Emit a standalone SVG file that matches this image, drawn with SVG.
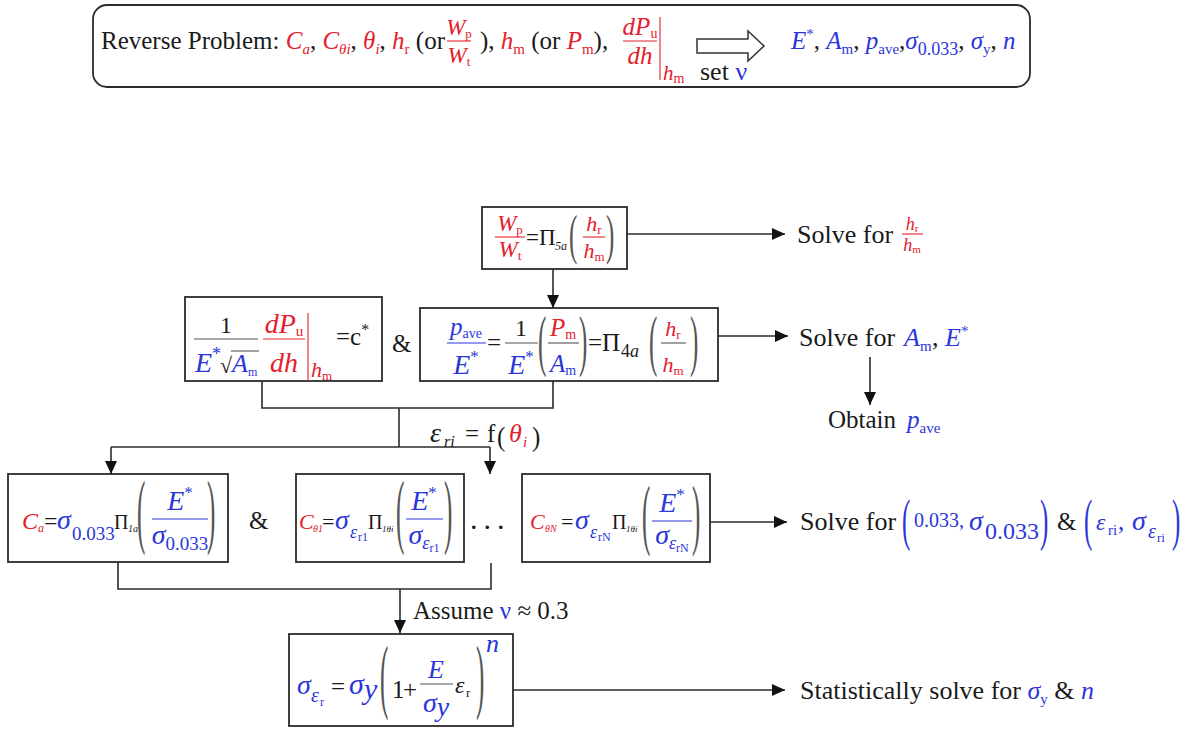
<svg xmlns="http://www.w3.org/2000/svg" width="1190" height="729" viewBox="0 0 1190 729" font-family="'Liberation Serif', 'DejaVu Serif', serif" font-size="25">
<defs>
<style>
text{fill:#1a1a1a;font-family:'Liberation Serif','DejaVu Serif',serif}
.r{fill:#e3202c}
.b{fill:#2b36d9}
.i{font-style:italic}
.n{font-style:normal}
.box{fill:#fff;stroke:#2b2b2b;stroke-width:1.8}
.ln{fill:none;stroke:#2b2b2b;stroke-width:1.6}
.bar{stroke:#555;stroke-width:1.1}
.rbar{stroke:#e3202c;stroke-width:1.1}
.bbar{stroke:#2b36d9;stroke-width:1.1}
.p{fill:#555}
.m{text-anchor:middle}
</style>
<marker id="ah" markerUnits="userSpaceOnUse" markerWidth="14" markerHeight="12" refX="13" refY="6" orient="auto"><path d="M0,0 L13,6 L0,12 z" fill="#111"/></marker>
</defs>
<rect width="1190" height="729" fill="#fff"/>

<g id="n-reverse">
<rect class="box" x="93" y="5" width="937" height="82" rx="14"/>
<text x="101" y="49">Reverse Problem: <tspan class="r i">C</tspan><tspan class="r i" font-size="15" dy="5">a</tspan><tspan dy="-5">, </tspan><tspan class="r i">C</tspan><tspan class="r i" font-size="15" dy="5">θi</tspan><tspan dy="-5">, </tspan><tspan class="r i">θ</tspan><tspan class="r i" font-size="15" dy="5">i</tspan><tspan dy="-5">, </tspan><tspan class="r i">h</tspan><tspan class="r" font-size="15" dy="5">r</tspan><tspan dy="-5"> (or</tspan></text>
<text class="r m" x="459" y="35" font-size="23"><tspan class="i">W</tspan><tspan font-size="13" dy="3">p</tspan></text>
<line class="rbar" x1="447" y1="41" x2="471" y2="41"/>
<text class="r m" x="459" y="63" font-size="23"><tspan class="i">W</tspan><tspan font-size="13" dy="3">t</tspan></text>
<text x="480" y="49">), <tspan class="r i">h</tspan><tspan class="r" font-size="15" dy="5">m</tspan><tspan dy="-5"> (or </tspan><tspan class="r i">P</tspan><tspan class="r" font-size="15" dy="5">m</tspan><tspan dy="-5">),</tspan></text>
<text class="r i m" x="640" y="35"><tspan>dP</tspan><tspan class="n" font-size="14" dy="3">u</tspan></text>
<line class="rbar" x1="623" y1="41" x2="657" y2="41"/>
<text class="r i m" x="640" y="64">dh</text>
<line class="rbar" x1="660" y1="17" x2="660" y2="80" stroke-width="1.5"/>
<text class="r i" x="663" y="80" font-size="21">h<tspan class="n" font-size="14" dy="3">m</tspan></text>
<polygon points="697,39 748,39 748,31 764,46 748,61 748,53 697,53" fill="#fff" stroke="#333" stroke-width="1.5"/>
<text x="700" y="80" font-size="26">set <tspan class="b">ν</tspan></text>
<text class="b" x="791" y="49"><tspan class="i">E</tspan><tspan font-size="15" dy="-10">*</tspan><tspan fill="#1a1a1a" dy="10">, </tspan><tspan class="i">A</tspan><tspan font-size="15" dy="5">m</tspan><tspan fill="#1a1a1a" dy="-5">, </tspan><tspan class="i">p</tspan><tspan font-size="15" dy="5">ave</tspan><tspan fill="#1a1a1a" dy="-5">,</tspan><tspan class="i">σ</tspan><tspan font-size="18" dy="6">0.033</tspan><tspan fill="#1a1a1a" dy="-6">, </tspan><tspan class="i">σ</tspan><tspan font-size="15" dy="5">y</tspan><tspan fill="#1a1a1a" dy="-5">, </tspan><tspan class="i">n</tspan></text>
</g>

<g id="n-wratio">
<rect class="box" x="482" y="207" width="145" height="62"/>
<text class="r m" x="510" y="231" font-size="23"><tspan class="i">W</tspan><tspan font-size="13" dy="3">p</tspan></text>
<line class="rbar" x1="495" y1="237" x2="525" y2="237"/>
<text class="r m" x="510" y="257" font-size="23"><tspan class="i">W</tspan><tspan font-size="13" dy="3">t</tspan></text>
<text x="526" y="245" font-size="23">=Π</text>
<text class="i" x="555" y="250" font-size="12">5a</text>
<text class="p" transform="translate(569,253) scale(1,2.2)">(</text>
<text class="r i m" x="594" y="231" font-size="22">h<tspan class="n" font-size="13" dy="3">r</tspan></text>
<line class="rbar" x1="583" y1="237" x2="605" y2="237"/>
<text class="r i m" x="594" y="258" font-size="22">h<tspan class="n" font-size="13" dy="3">m</tspan></text>
<text class="p" transform="translate(606,253) scale(1,2.2)">)</text>
</g>

<g id="n-solve-hr">
<text x="797" y="243" font-size="26">Solve for</text>
<text class="r i m" x="912" y="230" font-size="18">h<tspan class="n" font-size="11" dy="2">r</tspan></text>
<line class="rbar" x1="902" y1="234" x2="923" y2="234"/>
<text class="r i m" x="912" y="251" font-size="18">h<tspan class="n" font-size="11" dy="2">m</tspan></text>
</g>

<g id="n-cstar">
<rect class="box" x="185" y="297" width="197" height="84"/>
<text class="m" x="226" y="333" font-size="24">1</text>
<line class="bar" x1="194" y1="339" x2="258" y2="339"/>
<text class="b i" x="195" y="372" font-size="28">E</text>
<text class="b" x="212" y="360" font-size="18">*</text>
<text x="220" y="373" font-size="22">√</text>
<line class="bar" x1="231" y1="351" x2="259" y2="351"/>
<text class="b i" x="232" y="372" font-size="26">A<tspan class="n" font-size="12" dy="4">m</tspan></text>
<text class="r i m" x="284" y="333" font-size="28">dP<tspan class="n" font-size="15" dy="3">u</tspan></text>
<line class="rbar" x1="263" y1="339" x2="305" y2="339"/>
<text class="r i m" x="284" y="372" font-size="28">dh</text>
<line class="rbar" x1="308" y1="313" x2="308" y2="381" stroke-width="1.5"/>
<text class="r i" x="311" y="377" font-size="22">h<tspan class="n" font-size="13" dy="3">m</tspan></text>
<text x="336" y="345">=c<tspan font-size="16" dy="-10">*</tspan></text>
</g>

<g id="n-amp1"><text x="392" y="352">&amp;</text></g>

<g id="n-pave">
<rect class="box" x="420" y="308" width="298" height="73"/>
<text class="b m" x="466" y="335"><tspan class="i">p</tspan><tspan font-size="14" dy="3">ave</tspan></text>
<line class="bbar" x1="447" y1="343" x2="486" y2="343"/>
<text class="b i m" x="466" y="374" font-size="28">E<tspan class="n" font-size="17" dy="-12">*</tspan></text>
<text x="487" y="351">=</text>
<text class="m" x="521" y="336" font-size="24">1</text>
<line class="bar" x1="505" y1="343" x2="538" y2="343"/>
<text class="b i m" x="521" y="374" font-size="28">E<tspan class="n" font-size="17" dy="-12">*</tspan></text>
<text class="p" transform="translate(538,363) scale(1,2.71)">(</text>
<text class="r i m" x="563" y="336">P<tspan class="n" font-size="14" dy="3">m</tspan></text>
<line class="bar" x1="548" y1="343" x2="579" y2="343"/>
<text class="b i m" x="563" y="372">A<tspan class="n" font-size="14" dy="3">m</tspan></text>
<text class="p" transform="translate(579,363) scale(1,2.71)">)</text>
<text x="588" y="351">=Π</text>
<text x="621" y="357" font-size="18">4<tspan class="i">a</tspan></text>
<text class="p" transform="translate(649,363) scale(1,2.71)">(</text>
<text class="r i m" x="673" y="336" font-size="22">h<tspan class="n" font-size="13" dy="3">r</tspan></text>
<line class="bar" x1="661" y1="343" x2="686" y2="343"/>
<text class="r i m" x="673" y="372" font-size="22">h<tspan class="n" font-size="13" dy="3">m</tspan></text>
<text class="p" transform="translate(690,363) scale(1,2.71)">)</text>
</g>

<g id="n-solve-am">
<text x="799" y="346" font-size="26">Solve for</text>
<text class="b i" x="904" y="346" font-size="26">A<tspan class="n" font-size="15" dy="5">m</tspan></text>
<text x="932" y="346" font-size="26">,</text>
<text class="b i" x="945" y="346" font-size="26">E<tspan class="n" font-size="15" dy="-10">*</tspan></text>
</g>

<g id="n-obtain">
<text x="828" y="428" font-size="25">Obtain</text>
<text class="b i" x="907" y="428" font-size="25">p<tspan class="n" font-size="15" dy="5">ave</tspan></text>
</g>

<g id="n-ca">
<rect class="box" x="8" y="474" width="220" height="88"/>
<text class="r i" x="22" y="529" font-size="24">C</text>
<text class="r i" x="38" y="532" font-size="12">a</text>
<text x="44" y="529" font-size="24">=</text>
<text class="b i" x="57" y="529" font-size="28">σ</text>
<text class="b" x="72" y="540" font-size="19">0.033</text>
<text x="114" y="529" font-size="20">Π</text>
<text class="i" x="128" y="532" font-size="10">1a</text>
<text class="p" transform="translate(137,538) scale(1,3.33)">(</text>
<text class="b i m" x="180" y="510" font-size="28">E<tspan class="n" font-size="17" dy="-12">*</tspan></text>
<line class="bbar" x1="152" y1="519" x2="208" y2="519"/>
<text class="b m" x="180" y="544"><tspan class="i" font-size="28">σ</tspan><tspan font-size="19" dy="6">0.033</tspan></text>
<text class="p" transform="translate(207,538) scale(1,3.33)">)</text>
</g>

<g id="n-amp2"><text x="249" y="529">&amp;</text></g>

<g id="n-c1">
<rect class="box" x="296" y="474" width="168" height="88"/>
<text class="r i" x="299" y="529" font-size="22">C</text>
<text class="r i" x="313" y="532" font-size="10">θ1</text>
<text x="322" y="529" font-size="22">=</text>
<text class="b i" x="335" y="529" font-size="28">σ</text>
<text class="b i" x="350" y="538" font-size="18">ε</text>
<text class="b" x="358" y="541" font-size="12">r1</text>
<text x="368" y="529" font-size="20">Π</text>
<text class="i" x="382" y="532" font-size="9">1θi</text>
<text class="p" transform="translate(396,538) scale(1,3.33)">(</text>
<text class="b i m" x="424" y="510" font-size="28">E<tspan class="n" font-size="17" dy="-12">*</tspan></text>
<line class="bbar" x1="406" y1="519" x2="443" y2="519"/>
<text class="b i m" x="424" y="544"><tspan font-size="28">σ</tspan><tspan font-size="18" dy="5">ε</tspan><tspan class="n" font-size="12" dy="3">r1</tspan></text>
<text class="p" transform="translate(444,538) scale(1,3.33)">)</text>
</g>

<g id="n-dots"><text x="470" y="529" font-size="30" letter-spacing="6">...</text></g>

<g id="n-cn">
<rect class="box" x="522" y="474" width="188" height="88"/>
<text class="r i" x="530" y="529" font-size="22">C</text>
<text class="r i" x="545" y="532" font-size="10">θN</text>
<text x="561" y="529" font-size="22">=</text>
<text class="b i" x="575" y="529" font-size="28">σ</text>
<text class="b i" x="590" y="538" font-size="18">ε</text>
<text class="b" x="598" y="541" font-size="12">rN</text>
<text x="612" y="529" font-size="20">Π</text>
<text class="i" x="626" y="532" font-size="9">1θi</text>
<text class="p" transform="translate(642,540) scale(1,3.11)">(</text>
<text class="b i m" x="672" y="512" font-size="28">E<tspan class="n" font-size="17" dy="-12">*</tspan></text>
<line class="bbar" x1="652" y1="521" x2="692" y2="521"/>
<text class="b i m" x="672" y="544"><tspan font-size="28">σ</tspan><tspan font-size="18" dy="5">ε</tspan><tspan class="n" font-size="12" dy="3">rN</tspan></text>
<text class="p" transform="translate(692,540) scale(1,3.11)">)</text>
</g>

<g id="n-solve-sigma">
<text x="800" y="530" font-size="26">Solve for</text>
<text class="b" transform="translate(902,539) scale(1,2.31)">(</text>
<text class="b" x="914" y="527" font-size="20">0.033,</text>
<text class="b i" x="969" y="530" font-size="28">σ</text>
<text class="b" x="985" y="539" font-size="24">0.033</text>
<text class="b" transform="translate(1040,539) scale(1,2.31)">)</text>
<text x="1057" y="530">&amp;</text>
<text class="b" transform="translate(1084,539) scale(1,2.31)">(</text>
<text class="b i" x="1096" y="530" font-size="24">ε</text>
<text class="b" x="1108" y="535" font-size="15">ri</text>
<text class="b" x="1118" y="530">,</text>
<text class="b i" x="1132" y="530" font-size="28">σ</text>
<text class="b i" x="1148" y="538" font-size="20">ε</text>
<text class="b" x="1157" y="542" font-size="13">ri</text>
<text class="b" transform="translate(1172,539) scale(1,2.31)">)</text>
</g>

<g id="n-power">
<rect class="box" x="289" y="634" width="224" height="92"/>
<text class="b i" x="297" y="694" font-size="28">σ</text>
<text class="b i" x="311" y="702" font-size="20">ε</text>
<text class="b" x="320" y="706" font-size="12">r</text>
<text x="331" y="695">=</text>
<text class="b i" x="349" y="694" font-size="30">σ</text>
<text class="b i" x="364" y="699" font-size="30">y</text>
<text class="p" transform="translate(380,703) scale(1,3.29)">(</text>
<text x="392" y="698">1</text>
<text x="403" y="698">+</text>
<text class="b i m" x="436" y="678" font-size="26">E</text>
<line class="bar" x1="420" y1="684" x2="453" y2="684"/>
<text class="b i m" x="436" y="712"><tspan font-size="28">σ</tspan><tspan font-size="28" dy="4">y</tspan></text>
<text class="i" x="455" y="693" font-size="24">ε</text>
<text x="466" y="697" font-size="13">r</text>
<text class="p" transform="translate(476,703) scale(1,3.29)">)</text>
<text class="b i" x="486" y="652" font-size="26">n</text>
</g>

<g id="n-stat">
<text x="800" y="699" font-size="26">Statistically solve for <tspan class="b i">σ</tspan><tspan class="b" font-size="15" dy="5">y</tspan><tspan dy="-5"> &amp; </tspan><tspan class="b i">n</tspan></text>
</g>

<g id="connectors">
<line class="ln" x1="553" y1="269" x2="553" y2="308" marker-end="url(#ah)"/>
<line class="ln" x1="627" y1="234" x2="785" y2="234" marker-end="url(#ah)"/>
<line class="ln" x1="718" y1="336" x2="788" y2="336" marker-end="url(#ah)"/>
<line class="ln" x1="870" y1="357" x2="870" y2="405" marker-end="url(#ah)"/>
<polyline class="ln" points="262,381 262,408 553,408 553,381"/>
<line class="ln" x1="399" y1="408" x2="399" y2="447"/>
<line class="ln" x1="111" y1="447" x2="490" y2="447"/>
<line class="ln" x1="111" y1="447" x2="111" y2="474" marker-end="url(#ah)"/>
<line class="ln" x1="490" y1="447" x2="490" y2="474" marker-end="url(#ah)"/>
<line class="ln" x1="710" y1="522" x2="787" y2="522" marker-end="url(#ah)"/>
<polyline class="ln" points="118,562 118,589 491,589 491,563"/>
<line class="ln" x1="400" y1="589" x2="400" y2="633" marker-end="url(#ah)"/>
<line class="ln" x1="513" y1="690" x2="785" y2="690" marker-end="url(#ah)"/>
<text class="i" x="430" y="442" font-size="28">ε</text>
<text class="i" x="444" y="447" font-size="16">ri</text>
<text x="465" y="442" font-size="25">=</text>
<text x="487" y="442" font-size="25">f</text>
<text transform="translate(497,446) scale(1,1.12)" font-size="25">(</text>
<text class="r i" x="509" y="442" font-size="26">θ</text>
<text class="r i" x="523" y="447" font-size="15">i</text>
<text transform="translate(532,446) scale(1,1.12)" font-size="25">)</text>
<text x="413" y="619" font-size="25">Assume <tspan class="b">ν</tspan> ≈ 0.3</text>
</g>
</svg>
